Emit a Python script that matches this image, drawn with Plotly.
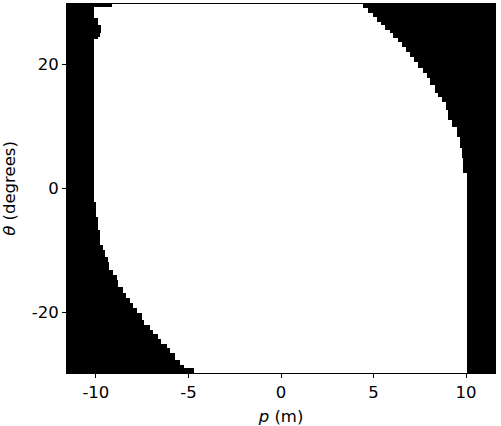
import numpy as np
import plotly.graph_objects as go

# limites da regiao branca (theta inferior de cada degrau -> p)
left_theta = [29.34, 27.51, 26.38, 25.09, 24.44, 24.12, -2.16, -4.59, -6.74, -9.16,
              -9.97, -11.05, -11.86, -13.2, -14.0, -14.8, -15.9, -16.96, -17.77, -18.58,
              -19.39, -20.19, -21.28, -22.08, -22.89, -23.54, -24.39, -25.04, -25.85, -26.66,
              -27.74, -28.55, -29.08, -30.0]
left_p = [-9.14, -10.07, -9.9, -9.72, -9.8, -9.9, -10.07, -10.0, -9.88, -9.76,
          -9.61, -9.53, -9.35, -9.26, -9.08, -8.9, -8.76, -8.52, -8.36, -8.18,
          -8.0, -7.78, -7.55, -7.37, -7.1, -6.91, -6.64, -6.46, -6.2, -6.0,
          -5.75, -5.5, -5.25, -4.7]

right_theta = [29.13, 28.32, 27.67, 26.87, 26.38, 25.57, 25.09, 24.28, 23.64, 22.83,
               22.02, 21.21, 20.41, 19.43, 18.63, 17.82, 16.69, 15.4, 14.75, 13.94,
               12.65, 11.03, 9.9, 8.29, 6.51, 4.9, 2.47, -30.0]
right_p = [4.42, 4.69, 4.96, 5.17, 5.39, 5.61, 5.88, 6.04, 6.31, 6.52,
           6.74, 6.96, 7.17, 7.39, 7.66, 7.86, 8.04, 8.31, 8.47, 8.67,
           8.85, 9.01, 9.23, 9.48, 9.66, 9.75, 9.84, 10.03]

x_ticks = [-10, -5, 0, 5, 10]
x_labels = ['-10', '-5', '0', '5', '10']
y_ticks = [-20, 0, 20]
y_labels = ['-20', '0', '20']

p_range = [-11.56, 11.56]
theta_range = [-29.85, 29.8]


def limite(theta_lim, p_lim, t):
    # degrau: pega o valor do degrau cujo limite inferior esta logo abaixo de t
    ordem = np.argsort(theta_lim)
    th = np.array(theta_lim)[ordem]
    pv = np.array(p_lim)[ordem]
    k = np.searchsorted(th, t, side='right') - 1
    k = np.clip(k, 0, len(th) - 1)
    return pv[k]


p = np.arange(p_range[0], p_range[1] + 0.001, 0.05)
theta = np.arange(-30, 30.001, 0.1)
lo = limite(left_theta, left_p, theta)
hi = limite(right_theta, right_p, theta)
z = ((p[None, :] >= lo[:, None]) & (p[None, :] <= hi[:, None])).astype(np.uint8)

fig = go.Figure()
fig.add_trace(go.Heatmap(
    x=p, y=theta, z=z,
    colorscale=[[0, 'black'], [1, 'white']],
    zmin=0, zmax=1, showscale=False, zsmooth=False,
    hoverinfo='skip'
))

fonte = dict(family='DejaVu Sans', size=16.5, color='black')
eixo = dict(showline=True, linecolor='black', linewidth=1, mirror=True,
            ticks='outside', ticklen=4, tickcolor='black', tickwidth=1,
            showgrid=False, zeroline=False, automargin=False,
            tickfont=fonte, title_font=fonte)

fig.update_xaxes(eixo, range=p_range, tickmode='array', tickvals=x_ticks, ticktext=x_labels,
                 title_text='<i>p</i> (m)')
fig.update_yaxes(eixo, range=theta_range, tickmode='array', tickvals=y_ticks, ticktext=y_labels,
                 title_text='<i>θ</i> (degrees)')

fig.update_layout(
    width=501, height=426,
    paper_bgcolor='white', plot_bgcolor='white',
    margin=dict(l=67, r=6, t=4, b=53),
    showlegend=False
)

# tira a margem padrao do body pra figura ficar colada no canto
fig.write_html("out.html", config={'displayModeBar': False},
               post_script="document.body.style.margin='0px';")
